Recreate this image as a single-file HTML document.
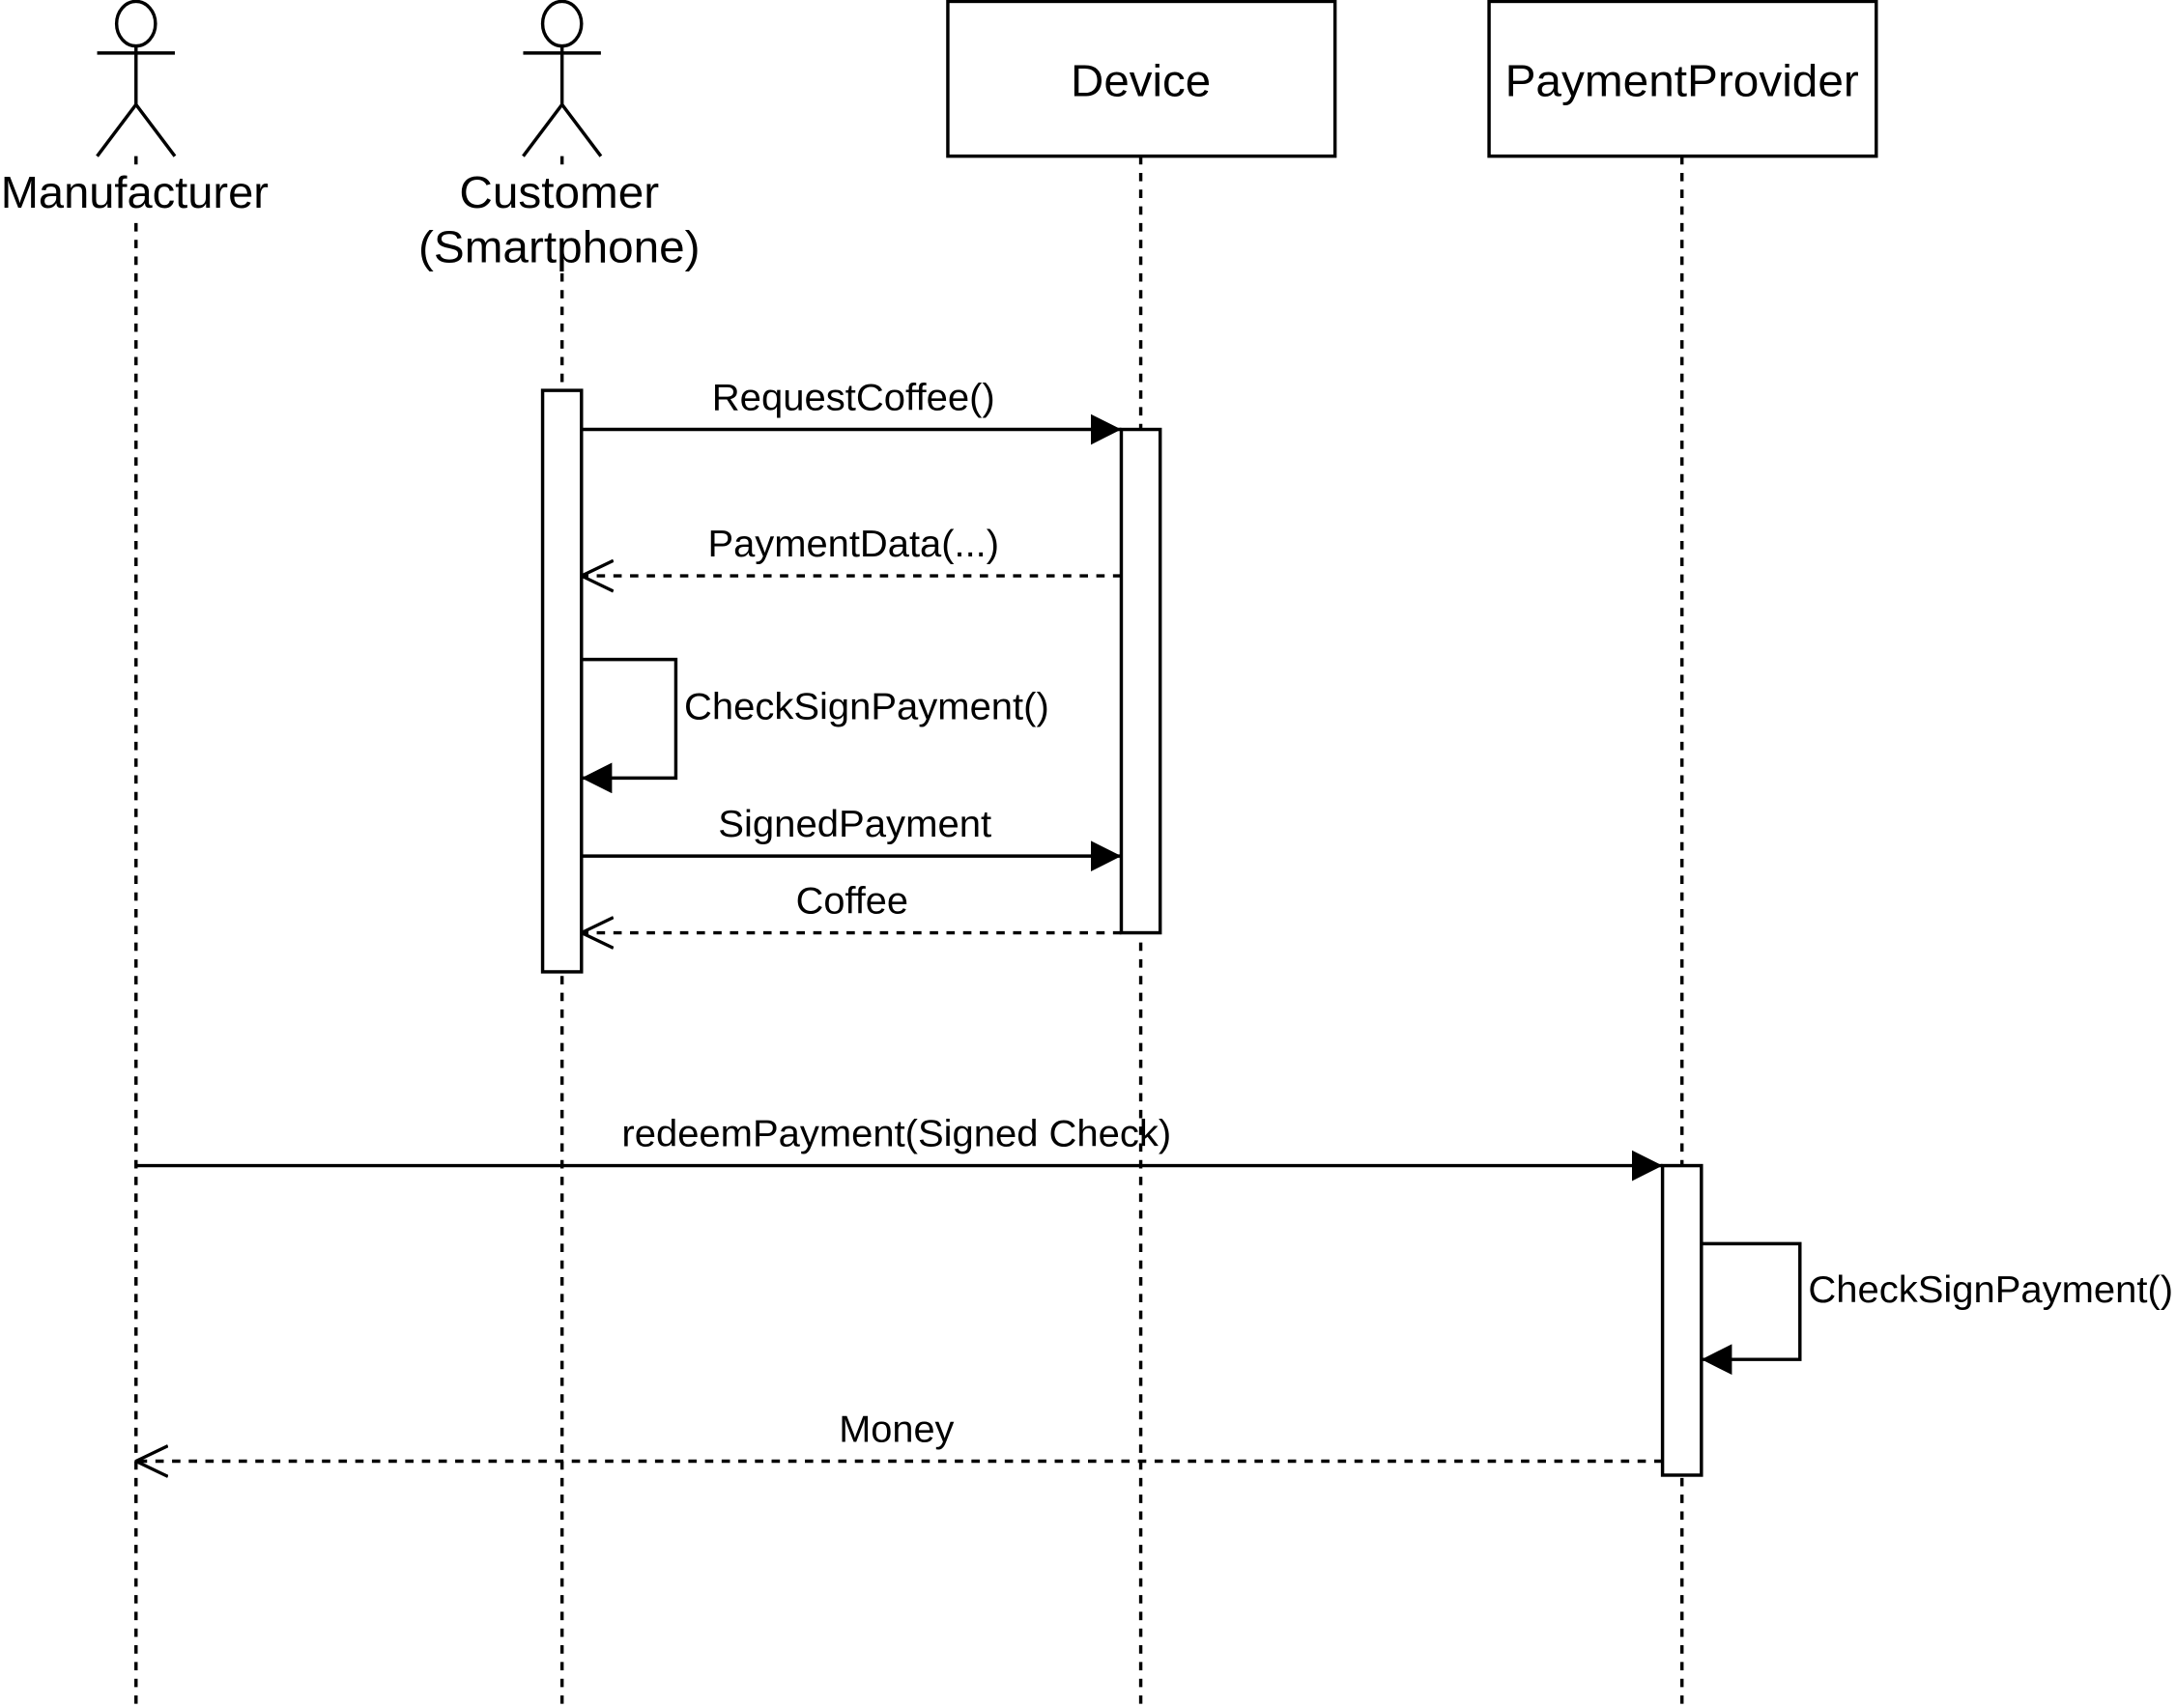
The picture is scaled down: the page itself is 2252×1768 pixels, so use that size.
<!DOCTYPE html>
<html><head><style>html,body{margin:0;padding:0;background:#fff}svg{display:block}</style></head><body>
<svg width="2252" height="1768" viewBox="0 0 1568 1225" preserveAspectRatio="none" xmlns="http://www.w3.org/2000/svg" font-family="Liberation Sans, Arial, sans-serif">
<rect width="1568" height="1225" fill="#fff"/>
<defs>
<marker id="f" viewBox="0 0 22 22" refX="22" refY="11" markerWidth="22" markerHeight="22" markerUnits="userSpaceOnUse" orient="auto"><path d="M0,0 L22,11 L0,22 Z" fill="#000"/></marker>
<marker id="o" viewBox="0 0 24 24" refX="23" refY="12" markerWidth="24" markerHeight="24" markerUnits="userSpaceOnUse" orient="auto"><path d="M0,1 L23,12 L0,23" fill="none" stroke="#000" stroke-width="2.3"/></marker>
</defs>
<g stroke="#000" stroke-width="2.4" fill="none">
<g stroke-dasharray="6,6">
<line x1="98" y1="112" x2="98" y2="1225"/>
<line x1="405" y1="112" x2="405" y2="1225"/>
<line x1="822" y1="112" x2="822" y2="1225"/>
<line x1="1212" y1="112" x2="1212" y2="1225"/>
</g>
<ellipse cx="98" cy="17" rx="14" ry="16"/>
<line x1="70" y1="38" x2="126" y2="38"/><line x1="98" y1="33" x2="98" y2="75"/>
<polyline points="70,112 98,75 126,112"/>
<ellipse cx="405" cy="17" rx="14" ry="16"/>
<line x1="377" y1="38" x2="433" y2="38"/><line x1="405" y1="33" x2="405" y2="75"/>
<polyline points="377,112 405,75 433,112"/>
<rect x="683" y="1" width="279" height="111" fill="#fff"/>
<rect x="1073" y="1" width="279" height="111" fill="#fff"/>
<rect x="391" y="280" width="28" height="417" fill="#fff"/>
<rect x="808" y="308" width="28" height="361" fill="#fff"/>
<rect x="1198" y="836" width="28" height="222" fill="#fff"/>
<line x1="419" y1="308" x2="808" y2="308" marker-end="url(#f)"/>
<line x1="808" y1="413" x2="419" y2="413" stroke-dasharray="6,6" marker-end="url(#o)"/>
<polyline points="419,473 487,473 487,558 419,558" marker-end="url(#f)"/>
<line x1="419" y1="614" x2="808" y2="614" marker-end="url(#f)"/>
<line x1="808" y1="669" x2="419" y2="669" stroke-dasharray="6,6" marker-end="url(#o)"/>
<line x1="98" y1="836" x2="1198" y2="836" marker-end="url(#f)"/>
<polyline points="1226,892 1297,892 1297,975 1226,975" marker-end="url(#f)"/>
<line x1="1198" y1="1048" x2="98" y2="1048" stroke-dasharray="6,6" marker-end="url(#o)"/>
</g>
<g fill="#000" font-size="32" text-anchor="middle">
<rect x="0" y="122" width="196" height="34" fill="#fff"/>
<text x="97" y="149" textLength="193" lengthAdjust="spacingAndGlyphs">Manufacturer</text>
<rect x="300" y="122" width="206" height="74" fill="#fff"/>
<text x="403" y="149" textLength="144" lengthAdjust="spacingAndGlyphs">Customer</text>
<text x="403" y="188" textLength="203" lengthAdjust="spacingAndGlyphs">(Smartphone)</text>
<text x="822" y="69" textLength="101" lengthAdjust="spacingAndGlyphs">Device</text>
<text x="1212" y="69" textLength="255" lengthAdjust="spacingAndGlyphs">PaymentProvider</text>
</g>
<g fill="#000" font-size="27" text-anchor="middle">
<text x="615" y="294" textLength="204" lengthAdjust="spacingAndGlyphs">RequestCoffee()</text>
<text x="615" y="399" textLength="210" lengthAdjust="spacingAndGlyphs">PaymentData(...)</text>
<text x="616" y="600" textLength="197" lengthAdjust="spacingAndGlyphs">SignedPayment</text>
<text x="614" y="655" textLength="81" lengthAdjust="spacingAndGlyphs">Coffee</text>
<text x="646" y="822" textLength="396" lengthAdjust="spacingAndGlyphs">redeemPayment(Signed Check)</text>
<text x="646" y="1034" textLength="83" lengthAdjust="spacingAndGlyphs">Money</text>
<text x="493" y="516" text-anchor="start" textLength="263" lengthAdjust="spacingAndGlyphs">CheckSignPayment()</text>
<text x="1303" y="934" text-anchor="start" textLength="263" lengthAdjust="spacingAndGlyphs">CheckSignPayment()</text>
</g>
</svg>
</body></html>
